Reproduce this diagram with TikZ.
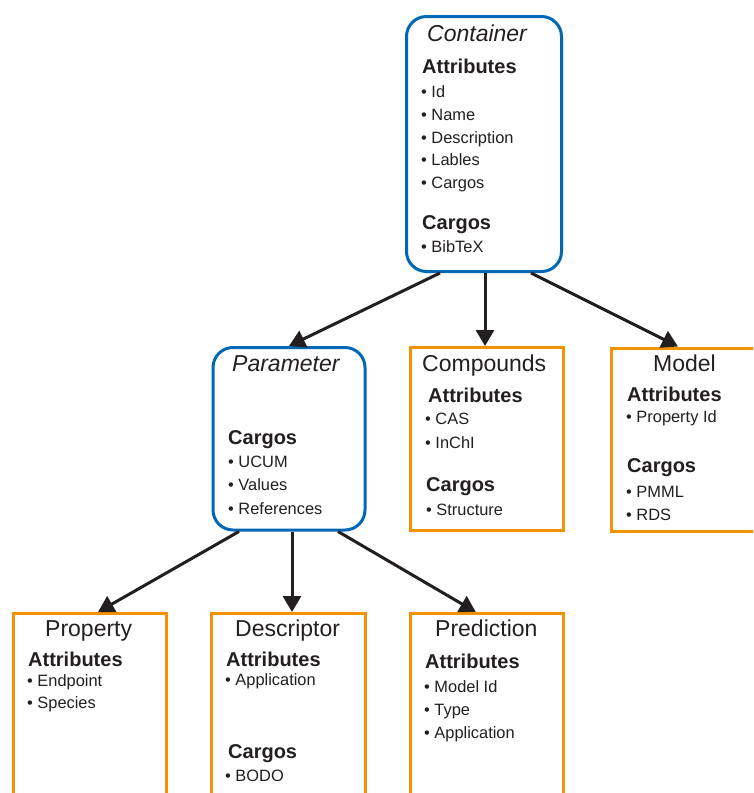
\documentclass[tikz,border=0pt]{standalone}
\usepackage{fontspec}
\setmainfont{Liberation Sans}
\usetikzlibrary{arrows.meta}
\definecolor{cblue}{HTML}{0068B4}
\definecolor{corange}{HTML}{F39200}
\definecolor{ink}{HTML}{231F20}
\begin{document}
\begin{tikzpicture}[x=1pt,y=-1pt,
  bluebox/.style={draw=cblue,line width=3pt,rounded corners=20pt,fill=white,inner sep=0pt},
  orbox/.style={draw=corange,line width=3pt,fill=white,inner sep=0pt},
  ttl/.style={inner sep=0pt,anchor=base west,text=ink,font=\fontsize{23}{27}\selectfont},
  ttli/.style={ttl,font=\fontsize{23}{27}\selectfont\itshape},
  hd/.style={inner sep=0pt,anchor=base west,text=ink,font=\fontsize{20}{24}\selectfont\bfseries},
  itm/.style={inner sep=0pt,anchor=base west,text=ink,font=\fontsize{16.4}{19}\selectfont},
  arr/.style={draw=ink,line width=3pt,-{Triangle[width=18pt,length=16pt]}}
]
\useasboundingbox (0,0) rectangle (753,793);
\clip (0,0) rectangle (753,793);
\fill[white] (0,0) rectangle (753,793);

% boxes
\node[bluebox,minimum width=155pt,minimum height=255pt] (cont) at (484,144) {};
\node[bluebox,minimum width=152pt,minimum height=182.5pt] (param) at (289,438.75) {};
\node[orbox,minimum width=153.5pt,minimum height=182.5pt] (comp) at (486.75,438.75) {};
\node[orbox,minimum width=153pt,minimum height=183pt] (model) at (688,439.5) {};
\node[orbox,minimum width=153pt,minimum height=200pt] (prop) at (90,713.5) {};
\node[orbox,minimum width=153.5pt,minimum height=200pt] (desc) at (288.25,713.5) {};
\node[orbox,minimum width=153.5pt,minimum height=200pt] (pred) at (486.75,713.5) {};

% arrows
\draw[arr] ([xshift=-44pt]cont.south) -- (param.north);
\draw[arr] ([xshift=1pt]cont.south) -- ([xshift=-1.75pt]comp.north);
\draw[arr] ([xshift=47pt]cont.south) -- ([xshift=-10pt]model.north);
\draw[arr] ([xshift=-50pt]param.south) -- ([xshift=8pt]prop.north);
\draw[arr] ([xshift=3pt]param.south) -- ([xshift=3.75pt]desc.north);
\draw[arr] ([xshift=49pt]param.south) -- ([xshift=-11pt]pred.north);

% Container
\node[ttli] (contT) at (427,41.5) {Container};
\node[hd] (contA) at (422,73.5) {Attributes};
\node[itm] (contA1) at (421,97.5) {• Id};
\node[itm] (contA2) at (421,120.5) {• Name};
\node[itm] (contA3) at (421,143) {• Description};
\node[itm] (contA4) at (421,165.5) {• Lables};
\node[itm] (contA5) at (421,188.5) {• Cargos};
\node[hd] (contC) at (422,229) {Cargos};
\node[itm] (contC1) at (421,252.5) {• BibTeX};

% Parameter
\node[ttli] (paramT) at (232,371.5) {Parameter};
\node[hd] (paramC) at (228,444.5) {Cargos};
\node[itm] (paramC1) at (228,467.5) {• UCUM};
\node[itm] (paramC2) at (228,490.5) {• Values};
\node[itm] (paramC3) at (228,514) {• References};

% Compounds
\node[ttl] (compT) at (422,371.5) {Compounds};
\node[hd] (compA) at (428,402.5) {Attributes};
\node[itm] (compA1) at (425,424.5) {• CAS};
\node[itm] (compA2) at (425,448) {• InChI};
\node[hd] (compC) at (426,491) {Cargos};
\node[itm] (compC1) at (426,515.5) {• Structure};

% Model
\node[ttl] (modelT) at (653,371.5) {Model};
\node[hd] (modelA) at (627,401.5) {Attributes};
\node[itm] (modelA1) at (626,422.5) {• Property Id};
\node[hd] (modelC) at (627,472.5) {Cargos};
\node[itm] (modelC1) at (626,497) {• PMML};
\node[itm] (modelC2) at (626,520) {• RDS};

% Property
\node[ttl] (propT) at (45,636.5) {Property};
\node[hd] (propA) at (28,666) {Attributes};
\node[itm] (propA1) at (27,686) {• Endpoint};
\node[itm] (propA2) at (27,708.5) {• Species};

% Descriptor
\node[ttl] (descT) at (235,636.5) {Descriptor};
\node[hd] (descA) at (226,666) {Attributes};
\node[itm] (descA1) at (225,685) {• Application};
\node[hd] (descC) at (228,758) {Cargos};
\node[itm] (descC1) at (225,781.5) {• BODO};

% Prediction
\node[ttl] (predT) at (435,636.5) {Prediction};
\node[hd] (predA) at (425,668) {Attributes};
\node[itm] (predA1) at (424,692.5) {• Model Id};
\node[itm] (predA2) at (424,715.5) {• Type};
\node[itm] (predA3) at (424,738.5) {• Application};
\end{tikzpicture}
\end{document}
